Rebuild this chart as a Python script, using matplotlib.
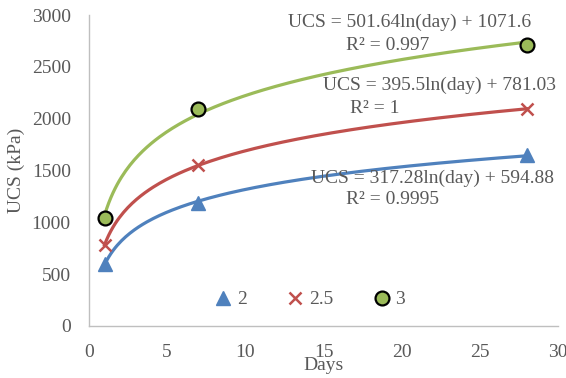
import matplotlib.pyplot as plt
import numpy as np

plt.rcParams['font.family'] = ['Liberation Serif', 'DejaVu Serif']

days = np.array([1, 7, 28])
ucs_2 = [595, 1190, 1650]
ucs_25 = [781, 1550, 2095]
ucs_3 = [1045, 2095, 2710]
labels = ['2', '2.5', '3']
eq_2 = ['UCS = 317.28ln(day) + 594.88', 'R² = 0.9995']
eq_25 = ['UCS = 395.5ln(day) + 781.03', 'R² = 1']
eq_3 = ['UCS = 501.64ln(day) + 1071.6', 'R² = 0.997']

blue = '#4F81BD'
red = '#C0504D'
green = '#9BBB59'
grey = '#595959'

fig = plt.figure(figsize=(5.66, 3.78), dpi=100)
ax = fig.add_axes([0.157, 0.138, 0.829, 0.822])

xs = np.linspace(1, 28, 200)
for y, c in [(ucs_2, blue), (ucs_25, red), (ucs_3, green)]:
    k, b = np.polyfit(np.log(days), y, 1)
    ax.plot(xs, k * np.log(xs) + b, color=c, lw=2.3, zorder=2)

ax.plot(days, ucs_2, '^', color=blue, ms=10, ls='none', label=labels[0], zorder=3)
ax.plot(days, ucs_25, 'x', color=red, ms=9, mew=1.8, ls='none', label=labels[1], zorder=3)
ax.plot(days, ucs_3, 'o', color=green, mec='black', mew=1.6, ms=10, ls='none', label=labels[2], zorder=3)

tk = dict(color=grey, fontsize=14, ha='center', va='center')
ax.text(20.5, 2932, eq_3[0], **tk)
ax.text(19.1, 2711, eq_3[1], **tk)
ax.text(22.4, 2325, eq_25[0], **tk)
ax.text(18.3, 2103, eq_25[1], **tk)
ax.text(22.0, 1428, eq_2[0], **tk)
ax.text(19.4, 1215, eq_2[1], **tk)

ax.set_xlim(0, 30)
ax.set_ylim(0, 3000)
ax.set_xticks(range(0, 31, 5))
ax.set_yticks(range(0, 3001, 500))
ax.tick_params(length=0, labelsize=14, labelcolor=grey, pad=13)
for s in ['top', 'right']:
    ax.spines[s].set_visible(False)
for s in ['left', 'bottom']:
    ax.spines[s].set_color('#BFBFBF')
    ax.spines[s].set_linewidth(1)

ax.set_xlabel('Days', fontsize=14, color=grey)
ax.xaxis.set_label_coords(0.5, -0.10)
ax.set_ylabel('UCS (kPa)', fontsize=14, color=grey)
ax.yaxis.set_label_coords(-0.136, 0.5)

ax.legend(loc='lower center', bbox_to_anchor=(0.47, 0.0), ncol=3, frameon=False,
          fontsize=14, labelcolor=grey, columnspacing=2.0, handletextpad=0.2,
          handlelength=1.0)

fig.savefig('out.png', dpi=100)
